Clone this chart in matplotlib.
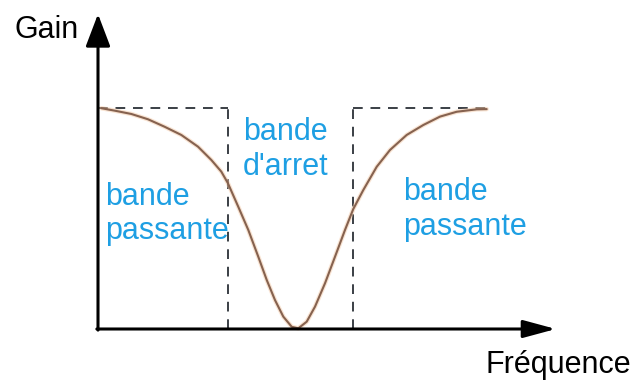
import matplotlib
matplotlib.use("Agg")
import matplotlib.pyplot as plt

# Curve: gain vs frequency (band-stop filter)
freq = [0.085, 0.428, 0.854, 1.282, 1.710, 2.136, 2.564, 2.905, 3.162, 3.33,
        3.597, 3.854, 4.110, 4.326, 4.538, 4.751, 4.967, 5.136, 5.351, 5.564,
        5.821, 6.077, 6.333, 6.546, 6.803, 7.146, 7.487, 7.915, 8.341, 8.769,
        9.197, 9.710, 9.967]
gain = [0.999, 0.988, 0.973, 0.949, 0.915, 0.878, 0.825, 0.765, 0.712, 0.660,
        0.553, 0.448, 0.327, 0.222, 0.131, 0.056, 0.010, 0.003, 0.033, 0.101,
        0.207, 0.327, 0.448, 0.543, 0.629, 0.734, 0.810, 0.878, 0.923, 0.961,
        0.983, 0.994, 0.995]

cutoffs = [3.33, 6.54]
f_end = 10.0
x_max = 11.74
y_max = 1.425

labels = ["bande\npassante", "bande\nd'arret", "bande\npassante"]
label_pos = [(0.18, 0.405), (3.72, 0.697), (7.82, 0.425)]

text_blue = "#1E9FE3"
curve_col = "#86624f"
dash_col = "#3a3f45"

plt.rcParams['font.family'] = ['Liberation Sans', 'DejaVu Sans']

fig = plt.figure(figsize=(6.32, 3.83), dpi=100)
ax = fig.add_axes([0, 0, 1, 1])
ax.set_xlim(-98 / 39, (632 - 98) / 39)
ax.set_ylim((329 - 383) / 221, 329 / 221)
ax.axis('off')

# dashed template
dash = dict(color=dash_col, lw=1.4, ls=(0, (5, 4)))
ax.plot([0, cutoffs[0]], [1, 1], **dash)
ax.plot([cutoffs[1], f_end], [1, 1], **dash)
for c in cutoffs:
    ax.plot([c, c], [0, 1], **dash)

# curve
ax.plot(freq, gain, color="#f3c9a6", lw=3.2, alpha=0.5, solid_capstyle='round')
ax.plot(freq, gain, color=curve_col, lw=1.5, solid_capstyle='round',
        solid_joinstyle='round')

# axes arrows
ax.annotate('', xy=(0, y_max), xytext=(0, -0.005),
            arrowprops=dict(arrowstyle='-|>,head_length=1.0,head_width=0.38',
                            mutation_scale=20, lw=2.2, color='black',
                            shrinkA=0, shrinkB=0))
ax.annotate('', xy=(x_max, 0), xytext=(-0.03, 0),
            arrowprops=dict(arrowstyle='-|>,head_length=1.0,head_width=0.27',
                            mutation_scale=20, lw=2.2, color='black',
                            shrinkA=0, shrinkB=0))

ax.text(-2.15, 1.353, "Gain", fontsize=22, color='black', va='center', ha='left')
ax.text(13.66, -0.163, "Fréquence", fontsize=22, color='black', va='center', ha='right')

for lab, (x, y) in zip(labels, label_pos):
    ax.text(x, y, lab, fontsize=22, color=text_blue, va='baseline', ha='left',
            linespacing=1.2)

fig.savefig("out.png", dpi=100)
